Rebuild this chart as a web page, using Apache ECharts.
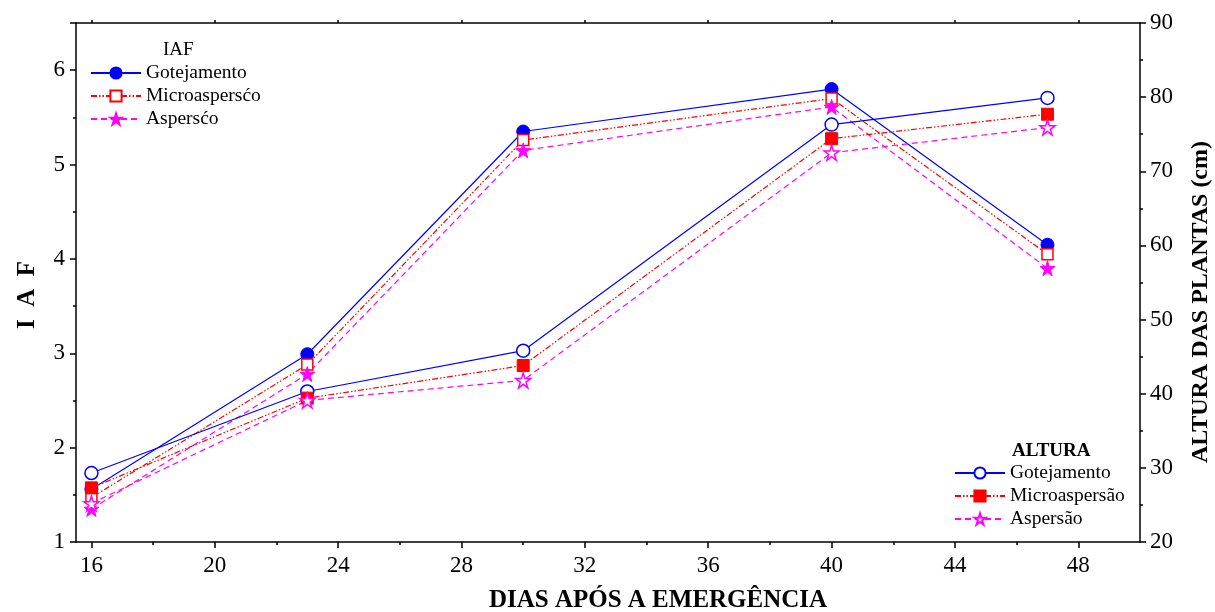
<!DOCTYPE html>
<html>
<head>
<meta charset="utf-8">
<script src="https://cdn.jsdelivr.net/npm/echarts@6/dist/echarts.min.js"></script>
<style>
html,body{margin:0;padding:0;background:#fff;}
#chart{width:1215px;height:612px;}
</style>
</head>
<body>
<div id="chart"></div>
<script>
// ---- data ----
const days = [16, 23, 30, 40, 47];
const xLabelTicks = [16, 20, 24, 28, 32, 36, 40, 44, 48];
const xMinorTicks = [18, 22, 26, 30, 34, 38, 42, 46];

const iafGotejamento = [1.56, 2.99, 5.35, 5.80, 4.15];
const iafMicro = [1.47, 2.88, 5.26, 5.70, 4.05];
const iafAspersao = [1.35, 2.78, 5.15, 5.61, 3.90];

const altGotejamento = [29.3, 40.3, 45.8, 76.3, 79.9];
const altMicro = [27.3, 39.4, 43.8, 74.4, 77.7];
const altAspersao = [25.2, 39.1, 41.8, 72.5, 75.9];

const xTitle = 'DIAS APÓS A EMERGÊNCIA';
const yLeftTitle = 'I  A  F';
const yRightTitle = 'ALTURA DAS PLANTAS (cm)';

const pairs = ys => days.map((d, i) => [d, ys[i]]);

const FONT = 'Liberation Serif';
const BLUE = '#0000ff', RED = '#ff0000', MAG = '#ff00ff';
const STAR = 'path://M50 0 L61.17 34.63 L97.55 34.55 L68.07 55.87 L79.39 90.45 L50 69 L20.61 90.45 L31.93 55.87 L2.45 34.55 L38.83 34.63 Z';
const dashDotDot = [6, 2, 1.5, 2, 1.5, 2];
const dashed = [6, 4];

const chart = echarts.init(document.getElementById('chart'), null, {renderer: 'canvas'});

const axisLineStyle = {color: '#000', width: 1.5};
const titleFont = 'bold 25px "Liberation Serif"';

const option = {
  backgroundColor: '#fff',
  animation: false,
  grid: {left: 76, top: 23, right: 75, bottom: 70, containLabel: false, outerBoundsMode: 'none'},
  graphic: [
    {type: 'text', left: 163, top: 41, style: {text: 'IAF', font: '19px "Liberation Serif"', fill: '#000'}},
    {type: 'text', left: 1012, top: 442, style: {text: 'ALTURA', font: 'bold 19px "Liberation Serif"', fill: '#000'}},
    {type: 'text', x: 658, y: 601, style: {text: xTitle, font: titleFont, fill: '#000', align: 'center', verticalAlign: 'middle'}},
    {type: 'text', x: 28, y: 295, rotation: Math.PI / 2, style: {text: yLeftTitle, font: titleFont, fill: '#000', align: 'center', verticalAlign: 'middle'}},
    {type: 'text', x: 1201, y: 302, rotation: Math.PI / 2, style: {text: yRightTitle, font: 'bold 24px "Liberation Serif"', fill: '#000', align: 'center', verticalAlign: 'middle'}}
  ],
  legend: [
    {
      data: ['Gotejamento', 'Microaspersćo', 'Aspersćo'],
      orient: 'vertical', left: 85, top: 58, itemWidth: 50, itemHeight: 14, itemGap: 3,
      textStyle: {fontFamily: FONT, fontSize: 19.5, color: '#000'}
    },
    {
      data: ['Gotejamento ', 'Microaspersão', 'Aspersão'],
      orient: 'vertical', left: 949, top: 458, itemWidth: 50, itemHeight: 14, itemGap: 3,
      textStyle: {fontFamily: FONT, fontSize: 19.5, color: '#000'}
    }
  ],
  xAxis: [
    {
      type: 'value', min: 15.5, max: 50, position: 'bottom',
      axisLine: {show: true, lineStyle: axisLineStyle},
      axisTick: {show: true, length: 6, inside: false, customValues: xLabelTicks, lineStyle: {color: '#000', width: 1.5}},
      axisLabel: {show: true, customValues: xLabelTicks, fontFamily: FONT, fontSize: 23, color: '#000', margin: 12},
      splitLine: {show: false}
    },
    {
      type: 'value', min: 15.5, max: 50, position: 'bottom',
      axisLine: {show: false},
      axisTick: {show: true, length: 3, customValues: xMinorTicks, lineStyle: {color: '#000', width: 1.5}},
      axisLabel: {show: false},
      splitLine: {show: false}
    },
    {
      type: 'value', min: 15.5, max: 50, position: 'top',
      axisLine: {show: true, lineStyle: axisLineStyle},
      axisTick: {show: true, length: 3, customValues: xLabelTicks, lineStyle: {color: '#000', width: 1.5}},
      axisLabel: {show: false},
      splitLine: {show: false}
    }
  ],
  yAxis: [
    {
      type: 'value', min: 1, max: 6.5, interval: 1, position: 'left',
      axisLine: {show: true, lineStyle: axisLineStyle},
      axisTick: {show: true, length: 6, lineStyle: {color: '#000', width: 1.5}},
      minorTick: {show: true, splitNumber: 2, length: 3, lineStyle: {color: '#000', width: 1.5}},
      axisLabel: {fontFamily: FONT, fontSize: 23, color: '#000', margin: 11,
        showMaxLabel: false},
      splitLine: {show: false}
    },
    {
      type: 'value', min: 20, max: 90, interval: 10, position: 'right',
      axisLine: {show: true, lineStyle: axisLineStyle},
      axisTick: {show: true, length: 6, lineStyle: {color: '#000', width: 1.5}},
      minorTick: {show: true, splitNumber: 2, length: 3, lineStyle: {color: '#000', width: 1.5}},
      axisLabel: {fontFamily: FONT, fontSize: 23, color: '#000', margin: 10},
      splitLine: {show: false}
    }
  ],
  series: [
    {
      name: 'Gotejamento', type: 'line', xAxisIndex: 0, yAxisIndex: 0, data: pairs(iafGotejamento),
      symbol: 'circle', symbolSize: 13,
      lineStyle: {color: BLUE, width: 1.2, type: 'solid'},
      itemStyle: {color: BLUE, borderColor: BLUE, borderWidth: 1}
    },
    {
      name: 'Microaspersćo', type: 'line', xAxisIndex: 0, yAxisIndex: 0, data: pairs(iafMicro),
      symbol: 'rect', symbolSize: 11,
      lineStyle: {color: RED, width: 1.2, type: dashDotDot},
      itemStyle: {color: '#fff', borderColor: RED, borderWidth: 1.5}
    },
    {
      name: 'Aspersćo', type: 'line', xAxisIndex: 0, yAxisIndex: 0, data: pairs(iafAspersao),
      symbol: STAR, symbolSize: 15,
      lineStyle: {color: MAG, width: 1.2, type: dashed},
      itemStyle: {color: MAG, borderColor: MAG, borderWidth: 1}
    },
    {
      name: 'Gotejamento ', type: 'line', xAxisIndex: 0, yAxisIndex: 1, data: pairs(altGotejamento),
      symbol: 'circle', symbolSize: 13,
      lineStyle: {color: BLUE, width: 1.2, type: 'solid'},
      itemStyle: {color: '#fff', borderColor: BLUE, borderWidth: 1.5}
    },
    {
      name: 'Microaspersão', type: 'line', xAxisIndex: 0, yAxisIndex: 1, data: pairs(altMicro),
      symbol: 'rect', symbolSize: 12,
      lineStyle: {color: RED, width: 1.2, type: dashDotDot},
      itemStyle: {color: RED, borderColor: RED, borderWidth: 1}
    },
    {
      name: 'Aspersão', type: 'line', xAxisIndex: 0, yAxisIndex: 1, data: pairs(altAspersao),
      symbol: STAR, symbolSize: 15,
      lineStyle: {color: MAG, width: 1.2, type: dashed},
      itemStyle: {color: '#fff', borderColor: MAG, borderWidth: 1.5}
    }
  ]
};
chart.setOption(option);
</script>
</body>
</html>
